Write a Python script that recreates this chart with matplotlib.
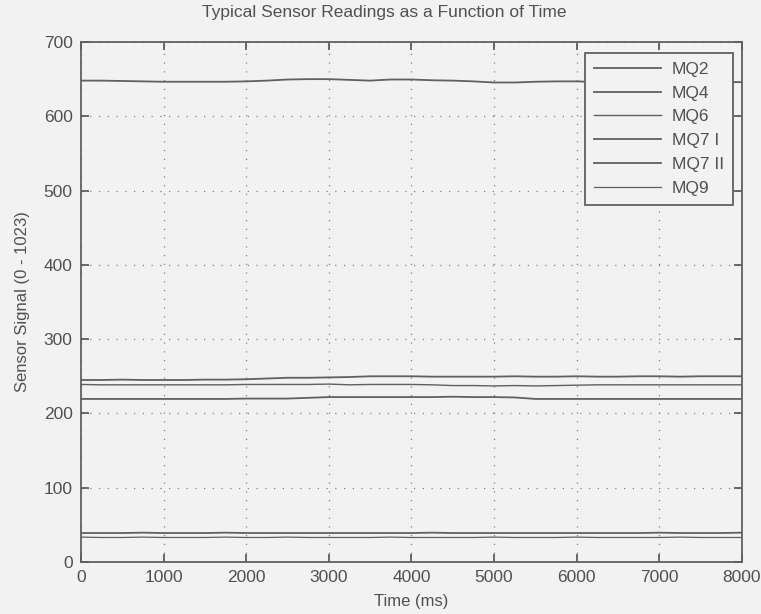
import matplotlib
matplotlib.use("Agg")
import matplotlib.pyplot as plt

plt.rcParams['font.family'] = ['Liberation Sans', 'DejaVu Sans']

# time axis (ms), one reading every 250 ms
time_ms = [0, 250, 500, 750, 1000, 1250, 1500, 1750, 2000, 2250, 2500, 2750,
           3000, 3250, 3500, 3750, 4000, 4250, 4500, 4750, 5000, 5250, 5500,
           5750, 6000, 6250, 6500, 6750, 7000, 7250, 7500, 7750, 8000]

mq2 = [648, 648, 647.5, 647, 646.5, 646.5, 646.5, 646.5, 647, 648, 649.5, 650,
       650, 649, 648, 649.5, 649.5, 648.5, 648, 647, 645.5, 645.5, 646.5, 647,
       647, 646, 645.5, 645, 645.5, 645, 645.5, 646, 646]
mq4 = [245, 245, 245.5, 245, 245, 245, 245.5, 245.5, 246, 247, 248, 248,
       248.5, 249, 250, 250, 250, 249.5, 249.5, 249.5, 249.5, 250, 249.5, 249.5,
       250, 249.5, 249.5, 250, 250, 249.5, 250, 250, 250]
mq6 = [239, 238.5, 238.5, 238.5, 238.5, 238.5, 238.5, 238.5, 239, 239, 239, 239,
       239.5, 238.5, 239, 239, 239, 238.5, 237.5, 237.5, 237, 237.5, 237, 237.5,
       238, 238.5, 238.5, 238.5, 238.5, 238.5, 238.5, 238.5, 238.5]
mq7_1 = [219.5, 219.5, 219.5, 219.5, 219.5, 219.5, 219.5, 219.5, 220, 220, 220, 221,
         222, 222, 222, 222, 222, 222, 222.5, 222, 222, 221.5, 219.5, 219.5,
         219.5, 219.5, 219.5, 219.5, 219.5, 219.5, 219.5, 219.5, 219.5]
mq7_2 = [39, 39, 39, 39.5, 39, 39, 39, 39.5, 39, 39, 39, 39,
         39, 39, 39, 39, 39, 39.5, 39, 39, 39, 39, 39, 39,
         39, 39, 39, 39, 39.5, 39, 39, 39, 39.5]
mq9 = [33.5, 33, 33, 33.5, 33, 33, 33, 33.5, 33, 33, 33.5, 33,
       33, 33, 33, 33.5, 33, 33, 33, 33, 33.5, 33, 33, 33,
       33.5, 33, 33, 33, 33, 33.5, 33, 33, 33]

labels = ['MQ2', 'MQ4', 'MQ6', 'MQ7 I', 'MQ7 II', 'MQ9']
series = [mq2, mq4, mq6, mq7_1, mq7_2, mq9]
widths = [1.3, 1.3, 1.0, 1.3, 1.3, 0.9]

bg = '#f2f2f2'
ink = '#505050'

fig = plt.figure(figsize=(7.61, 6.14), dpi=100, facecolor=bg)
ax = fig.add_axes([0.1064, 0.0847, 0.8686, 0.8469], facecolor=bg)

for vals, lab, lw in zip(series, labels, widths):
    ax.plot(time_ms, vals, color='#606060', linewidth=lw, label=lab)

ax.set_xlim(0, 8000)
ax.set_ylim(0, 700)
ax.set_xticks(range(0, 8001, 1000))
ax.set_yticks(range(0, 701, 100))
ax.grid(True, linestyle=(0, (1, 6)), color='#808080', linewidth=0.9)
ax.tick_params(direction='in', top=True, right=True, length=6, width=1.2,
               color=ink, labelcolor=ink, labelsize=12.5, pad=6)
for sp in ax.spines.values():
    sp.set_color('#606060')
    sp.set_linewidth(1.3)

fig.text(384 / 761, 1 - 13 / 614, 'Typical Sensor Readings as a Function of Time',
         fontsize=12.5, color=ink, ha='center', va='center')
ax.set_xlabel('Time (ms)', fontsize=12, color=ink, labelpad=6)
ax.set_ylabel('Sensor Signal (0 - 1023)', fontsize=12, color=ink, labelpad=10)

leg = ax.legend(loc='upper right', bbox_to_anchor=(0.986, 0.979), fontsize=12.5,
                frameon=True, fancybox=False, handlelength=3.9, handletextpad=0.6,
                labelspacing=0.5, borderpad=0.5, borderaxespad=0,
                edgecolor='#606060')
leg.get_frame().set_facecolor(bg)
leg.get_frame().set_linewidth(1.3)
leg.get_frame().set_alpha(1)
for t in leg.get_texts():
    t.set_color(ink)

fig.savefig('out.png', dpi=100, facecolor=bg)
